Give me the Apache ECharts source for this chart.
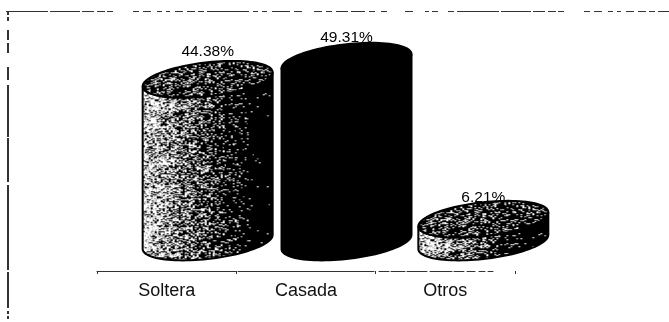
<!DOCTYPE html>
<html>
<head>
<meta charset="utf-8">
<style>html,body{margin:0;padding:0;background:#fff}#chart{width:669px;height:322px}</style>
<script src="https://cdn.jsdelivr.net/npm/echarts@6/dist/echarts.min.js"></script>
</head>
<body>
<div id="chart"></div>
<script>
// Estado civil: porcentaje por categoría
const categories = ['Soltera', 'Casada', 'Otros'];
const shares = [44.38, 49.31, 6.21];

// Cylinder drawing settings, in pixels
const depthX = [41, 40.5, 38], depthY = -29;   // shift of the cylinders from the floor axis
const radiusX = 65, radiusY = 17, tilt = 7;
const labelRaise = [28, 23, 22];               // label centre above each cylinder's top centre
const solidBar = [false, true, false];

// Repeatable speckle built from an integer hash, so every render is identical
function speckle(x, y) {
  let h = (x * 374761393 + y * 668265263) | 0;
  h = Math.imul(h ^ (h >>> 13), 1274126177);
  return ((h ^ (h >>> 16)) >>> 0) / 4294967296;
}
function makeTile(w, h, brightnessAt) {
  const c = document.createElement('canvas');
  c.width = w; c.height = h;
  const ctx = c.getContext('2d');
  ctx.fillStyle = '#000';
  ctx.fillRect(0, 0, w, h);
  for (let y = 0; y < h; y++) {
    for (let x = 0; x < w; x++) {
      const n = speckle(x >> 1, y);
      const b = brightnessAt(x / w);
      if (n < b) {
        ctx.fillStyle = speckle(x + 91, y + 17) < 0.25 ? '#8e8e8e' : '#fff';
        ctx.fillRect(x, y, 1, 1);
      }
    }
  }
  return c;
}
const sideRamp = [[0, 0.9], [0.12, 0.72], [0.3, 0.5], [0.5, 0.3], [0.68, 0.14], [0.85, 0.02], [1, 0]];
function rampAt(t) {
  for (let i = 1; i < sideRamp.length; i++) {
    if (t <= sideRamp[i][0]) {
      const a = sideRamp[i - 1], b = sideRamp[i];
      return a[1] + (b[1] - a[1]) * (t - a[0]) / (b[0] - a[0]);
    }
  }
  return 0;
}
const sideTile = makeTile(radiusX * 2, 240, rampAt);
const capTile = makeTile(radiusX * 2, 60, t => 0.3 - 0.08 * t);

// Outline point of the slanted ellipse at angle a, relative to its centre
function rim(a) {
  return [radiusX * Math.cos(a), radiusY * Math.sin(a) - tilt * Math.cos(a)];
}

function renderCylinder(params, api) {
  const i = api.value(0);
  const value = api.value(1);
  const top = api.coord([i, value]);
  const base = api.coord([i, 0]);
  const cx = top[0] + depthX[i];
  const topY = top[1] + depthY;
  const height = base[1] - top[1];
  const left = cx - radiusX;
  const solid = solidBar[i];

  const sidePts = [];
  for (let k = 0; k <= 48; k++) {
    const p = rim(Math.PI - Math.PI * k / 48);
    sidePts.push([p[0] + radiusX, p[1] + height]);
  }
  for (let k = 0; k <= 48; k++) {
    const p = rim(Math.PI * k / 48);
    sidePts.push([p[0] + radiusX, p[1]]);
  }
  const capPts = [];
  for (let k = 0; k < 96; k++) {
    const p = rim(2 * Math.PI * k / 96);
    capPts.push([p[0] + radiusX, p[1] + 24]);
  }
  const outline = { stroke: '#000', lineWidth: 2 };
  return {
    type: 'group',
    children: [
      {
        type: 'polygon', x: left, y: topY,
        shape: { points: sidePts },
        style: Object.assign({ fill: solid ? '#000' : { image: sideTile, repeat: 'repeat' } }, outline)
      },
      {
        type: 'polygon', x: left, y: topY - 24,
        shape: { points: capPts },
        style: Object.assign({ fill: solid ? '#000' : { image: capTile, repeat: 'repeat' } }, outline)
      },
      {
        type: 'text', x: cx, y: topY - labelRaise[i],
        style: {
          text: value.toFixed(2) + '%', fill: '#000',
          font: '15.5px "Liberation Sans"', align: 'center', verticalAlign: 'middle'
        }
      }
    ]
  };
}

const chart = echarts.init(document.getElementById('chart'), null, { renderer: 'canvas' });
chart.setOption({
  animation: false,
  backgroundColor: '#fff',
  grid: { left: 97, top: 51, width: 418, height: 220 },
  xAxis: {
    type: 'category',
    data: categories,
    axisLine: { lineStyle: { color: '#333', width: 1, type: [139, 2, 136, 5, 10, 2, 14, 2, 20, 3, 22, 2, 10, 3, 8, 4, 6, 3, 5, 40] } },
    axisTick: { show: true, length: 3, lineStyle: { color: '#333' } },
    axisLabel: { color: '#111', fontFamily: 'Liberation Sans', fontSize: 18, margin: 11 }
  },
  yAxis: { type: 'value', min: 0, max: 60, show: false },
  graphic: [
    {
      type: 'line', silent: true,
      shape: { x1: 6, y1: 11.5, x2: 669, y2: 11.5 },
      style: { stroke: '#333', lineWidth: 1, lineDash: [42, 2, 30, 2, 12, 3, 8, 2, 6, 20, 6, 4, 8, 6, 5, 4, 4, 5, 8, 4, 8, 3, 6, 3, 42, 4, 5, 4, 5, 5, 18, 4, 8, 12, 8, 4, 6, 4, 12, 3, 14, 4, 6, 6, 6, 18, 8, 12, 4, 3, 6, 10, 6, 3] }
    },
    {
      type: 'line', silent: true,
      shape: { x1: 8, y1: 12, x2: 8, y2: 319 },
      style: { stroke: '#333', lineWidth: 2, lineDash: [3, 2, 4, 9, 10, 3, 10, 14, 13, 5, 52, 1, 44, 3, 85, 2, 36, 3, 3, 2, 4, 50] }
    }
  ],
  series: [{
    type: 'custom',
    renderItem: renderCylinder,
    clip: false,
    encode: { x: 0, y: 1 },
    data: shares.map((v, i) => [i, v])
  }]
});
</script>
</body>
</html>
